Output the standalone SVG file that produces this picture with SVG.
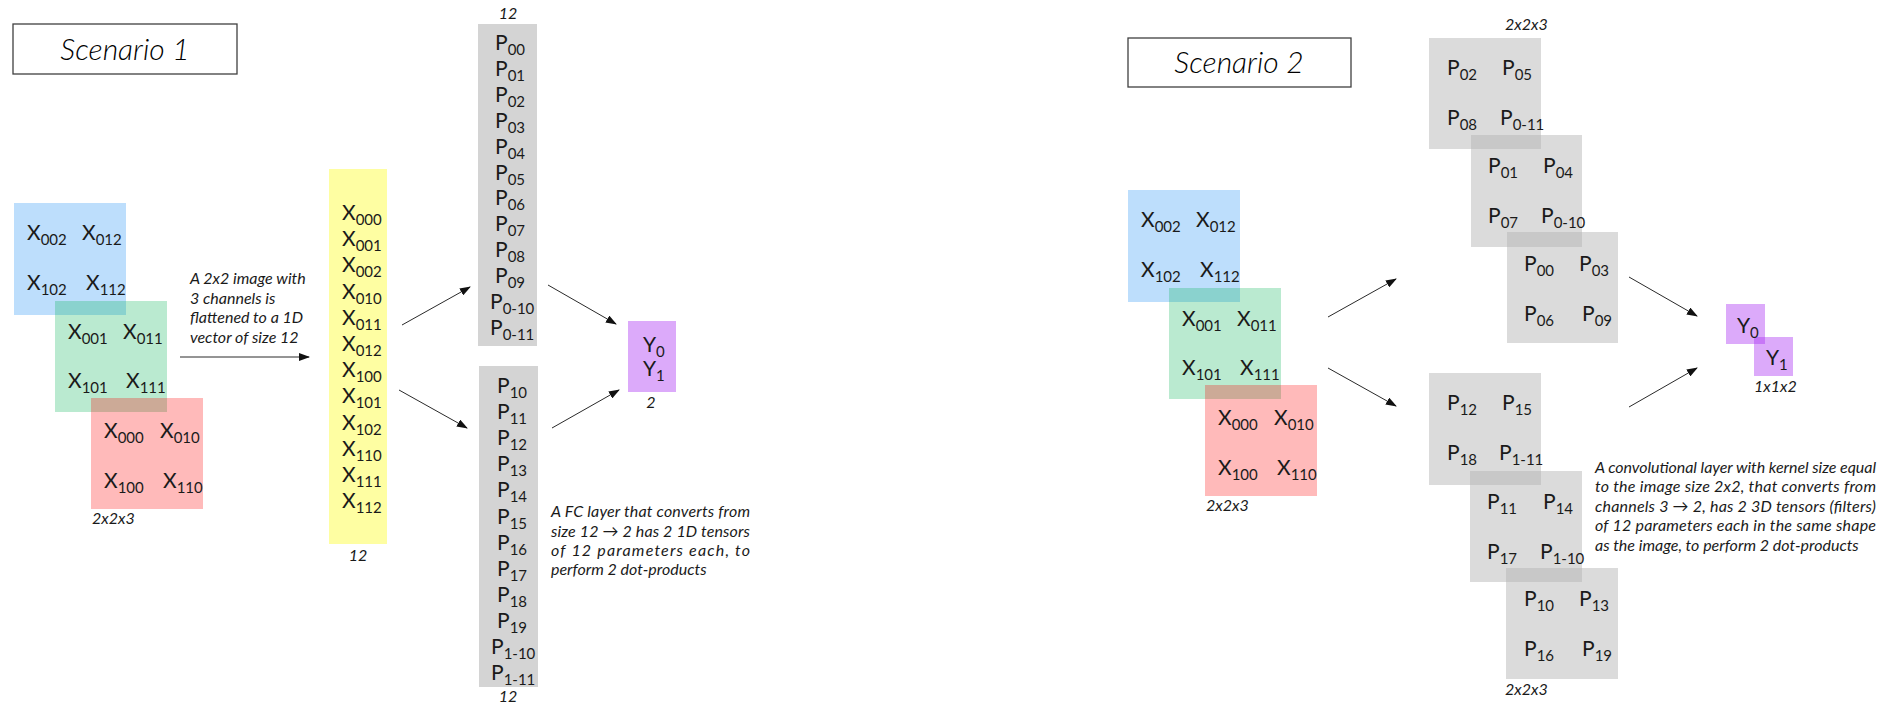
<svg xmlns="http://www.w3.org/2000/svg" width="1886" height="704" viewBox="0 0 1886 704">
<defs>
<style>
text{font-family:"Lato","Open Sans","Liberation Sans",sans-serif;fill:#111}
.lbl{font-size:21px;font-weight:400;fill:#1a1a1a}
.sub{font-size:15px}
.it{font-style:italic;font-weight:400;font-size:16px;fill:#1a1a1a}
.title{font-style:italic;font-weight:300;font-size:30px;fill:#000}
.box{fill:#fff;stroke:#404040;stroke-width:1.3}
.blue{fill:rgb(10,132,244);fill-opacity:0.27}
.green{fill:#00b050;fill-opacity:0.27}
.red{fill:#ff0000;fill-opacity:0.27}
.yel{fill:#fefea2}
.gcol{fill:#d4d4d4}
.gsq{fill:#b4b4b4;fill-opacity:0.48}
.pur{fill:rgb(167,42,242);fill-opacity:0.4}
.conn line{stroke:#2a2a2a;stroke-width:1;marker-end:url(#ah)}
</style>
<marker id="ah" markerUnits="userSpaceOnUse" markerWidth="11" markerHeight="8" refX="10" refY="4" orient="auto">
<path d="M0,0 L11,4 L0,8 z" fill="#111"/>
</marker>
</defs>
<rect width="1886" height="704" fill="#fff"/>

<!-- Scenario 1 -->
<g id="title1">
<rect class="box" x="13" y="24" width="224" height="50"/>
<text class="title" x="125" y="60" text-anchor="middle">Scenario 1</text>
</g>

<g id="image1">
<rect class="blue" x="14" y="203" width="112" height="112"/>
<rect class="green" x="55" y="301" width="112" height="111"/>
<rect class="red" x="91" y="398" width="112" height="111"/>
<text class="lbl" x="27" y="240">X<tspan class="sub" dy="5">002</tspan></text>
<text class="lbl" x="82" y="240">X<tspan class="sub" dy="5">012</tspan></text>
<text class="lbl" x="27" y="290">X<tspan class="sub" dy="5">102</tspan></text>
<text class="lbl" x="86" y="290">X<tspan class="sub" dy="5">112</tspan></text>
<text class="lbl" x="68" y="339">X<tspan class="sub" dy="5">001</tspan></text>
<text class="lbl" x="123" y="339">X<tspan class="sub" dy="5">011</tspan></text>
<text class="lbl" x="68" y="388">X<tspan class="sub" dy="5">101</tspan></text>
<text class="lbl" x="126" y="388">X<tspan class="sub" dy="5">111</tspan></text>
<text class="lbl" x="104" y="438">X<tspan class="sub" dy="5">000</tspan></text>
<text class="lbl" x="160" y="438">X<tspan class="sub" dy="5">010</tspan></text>
<text class="lbl" x="104" y="488">X<tspan class="sub" dy="5">100</tspan></text>
<text class="lbl" x="163" y="488">X<tspan class="sub" dy="5">110</tspan></text>
<text class="it" x="92" y="524">2x2x3</text>
</g>

<g id="note1">
<text class="it" x="190" y="284">A 2x2 image with</text>
<text class="it" x="190" y="304">3 channels is</text>
<text class="it" x="190" y="323">flattened to a 1D</text>
<text class="it" x="190" y="343">vector of size 12</text>
</g>

<g id="flat">
<rect class="yel" x="329" y="169" width="58" height="375"/>
<text class="lbl" x="342" y="220">X<tspan class="sub" dy="5">000</tspan></text>
<text class="lbl" x="342" y="246.2">X<tspan class="sub" dy="5">001</tspan></text>
<text class="lbl" x="342" y="272.4">X<tspan class="sub" dy="5">002</tspan></text>
<text class="lbl" x="342" y="298.6">X<tspan class="sub" dy="5">010</tspan></text>
<text class="lbl" x="342" y="324.8">X<tspan class="sub" dy="5">011</tspan></text>
<text class="lbl" x="342" y="351">X<tspan class="sub" dy="5">012</tspan></text>
<text class="lbl" x="342" y="377.2">X<tspan class="sub" dy="5">100</tspan></text>
<text class="lbl" x="342" y="403.4">X<tspan class="sub" dy="5">101</tspan></text>
<text class="lbl" x="342" y="429.6">X<tspan class="sub" dy="5">102</tspan></text>
<text class="lbl" x="342" y="455.8">X<tspan class="sub" dy="5">110</tspan></text>
<text class="lbl" x="342" y="482">X<tspan class="sub" dy="5">111</tspan></text>
<text class="lbl" x="342" y="508.2">X<tspan class="sub" dy="5">112</tspan></text>
<text class="it" x="358" y="561" text-anchor="middle">12</text>
</g>

<g id="fc0">
<rect class="gcol" x="478" y="24" width="59" height="322"/>
<text class="it" x="508" y="19" text-anchor="middle">12</text>
<text class="lbl" x="495" y="50">P<tspan class="sub" dy="5">00</tspan></text>
<text class="lbl" x="495" y="75.9">P<tspan class="sub" dy="5">01</tspan></text>
<text class="lbl" x="495" y="101.8">P<tspan class="sub" dy="5">02</tspan></text>
<text class="lbl" x="495" y="127.7">P<tspan class="sub" dy="5">03</tspan></text>
<text class="lbl" x="495" y="153.6">P<tspan class="sub" dy="5">04</tspan></text>
<text class="lbl" x="495" y="179.5">P<tspan class="sub" dy="5">05</tspan></text>
<text class="lbl" x="495" y="205.4">P<tspan class="sub" dy="5">06</tspan></text>
<text class="lbl" x="495" y="231.3">P<tspan class="sub" dy="5">07</tspan></text>
<text class="lbl" x="495" y="257.2">P<tspan class="sub" dy="5">08</tspan></text>
<text class="lbl" x="495" y="283.1">P<tspan class="sub" dy="5">09</tspan></text>
<text class="lbl" x="490" y="309">P<tspan class="sub" dy="5">0-10</tspan></text>
<text class="lbl" x="490" y="334.9">P<tspan class="sub" dy="5">0-11</tspan></text>
</g>

<g id="fc1">
<rect class="gcol" x="479" y="366" width="59" height="321"/>
<text class="lbl" x="497" y="393">P<tspan class="sub" dy="5">10</tspan></text>
<text class="lbl" x="497" y="419.1">P<tspan class="sub" dy="5">11</tspan></text>
<text class="lbl" x="497" y="445.2">P<tspan class="sub" dy="5">12</tspan></text>
<text class="lbl" x="497" y="471.3">P<tspan class="sub" dy="5">13</tspan></text>
<text class="lbl" x="497" y="497.4">P<tspan class="sub" dy="5">14</tspan></text>
<text class="lbl" x="497" y="523.5">P<tspan class="sub" dy="5">15</tspan></text>
<text class="lbl" x="497" y="549.6">P<tspan class="sub" dy="5">16</tspan></text>
<text class="lbl" x="497" y="575.7">P<tspan class="sub" dy="5">17</tspan></text>
<text class="lbl" x="497" y="601.8">P<tspan class="sub" dy="5">18</tspan></text>
<text class="lbl" x="497" y="627.9">P<tspan class="sub" dy="5">19</tspan></text>
<text class="lbl" x="491" y="654">P<tspan class="sub" dy="5">1-10</tspan></text>
<text class="lbl" x="491" y="680.1">P<tspan class="sub" dy="5">1-11</tspan></text>
<text class="it" x="508" y="702" text-anchor="middle">12</text>
</g>

<g id="out1">
<rect class="pur" x="628" y="321" width="48" height="71"/>
<text class="lbl" x="643" y="352">Y<tspan class="sub" dy="5">0</tspan></text>
<text class="lbl" x="643" y="376">Y<tspan class="sub" dy="5">1</tspan></text>
<text class="it" x="651" y="408" text-anchor="middle">2</text>
</g>

<g id="note2">
<text class="it" x="551" y="517" textLength="199" lengthAdjust="spacing">A FC layer that converts from</text>
<text class="it" x="551" y="537" textLength="199" lengthAdjust="spacing">size 12 → 2 has 2 1D tensors</text>
<text class="it" x="551" y="556" textLength="199" lengthAdjust="spacing">of 12 parameters each, to</text>
<text class="it" x="551" y="575">perform 2 dot-products</text>
</g>

<!-- Scenario 2 -->
<g id="title2">
<rect class="box" x="1128" y="38" width="223" height="49"/>
<text class="title" x="1239" y="73" text-anchor="middle">Scenario 2</text>
</g>

<g id="image2" transform="translate(1114,-13)">
<rect class="blue" x="14" y="203" width="112" height="112"/>
<rect class="green" x="55" y="301" width="112" height="111"/>
<rect class="red" x="91" y="398" width="112" height="111"/>
<text class="lbl" x="27" y="240">X<tspan class="sub" dy="5">002</tspan></text>
<text class="lbl" x="82" y="240">X<tspan class="sub" dy="5">012</tspan></text>
<text class="lbl" x="27" y="290">X<tspan class="sub" dy="5">102</tspan></text>
<text class="lbl" x="86" y="290">X<tspan class="sub" dy="5">112</tspan></text>
<text class="lbl" x="68" y="339">X<tspan class="sub" dy="5">001</tspan></text>
<text class="lbl" x="123" y="339">X<tspan class="sub" dy="5">011</tspan></text>
<text class="lbl" x="68" y="388">X<tspan class="sub" dy="5">101</tspan></text>
<text class="lbl" x="126" y="388">X<tspan class="sub" dy="5">111</tspan></text>
<text class="lbl" x="104" y="438">X<tspan class="sub" dy="5">000</tspan></text>
<text class="lbl" x="160" y="438">X<tspan class="sub" dy="5">010</tspan></text>
<text class="lbl" x="104" y="488">X<tspan class="sub" dy="5">100</tspan></text>
<text class="lbl" x="163" y="488">X<tspan class="sub" dy="5">110</tspan></text>
<text class="it" x="92" y="524">2x2x3</text>
</g>

<g id="filter0">
<text class="it" x="1505" y="30">2x2x3</text>
<rect class="gsq" x="1429" y="38" width="112" height="111"/>
<rect class="gsq" x="1471" y="135" width="111" height="112"/>
<rect class="gsq" x="1507" y="232" width="111" height="111"/>
<text class="lbl" x="1447" y="75">P<tspan class="sub" dy="5">02</tspan></text>
<text class="lbl" x="1502" y="75">P<tspan class="sub" dy="5">05</tspan></text>
<text class="lbl" x="1447" y="125">P<tspan class="sub" dy="5">08</tspan></text>
<text class="lbl" x="1500" y="125">P<tspan class="sub" dy="5">0-11</tspan></text>
<text class="lbl" x="1488" y="173">P<tspan class="sub" dy="5">01</tspan></text>
<text class="lbl" x="1543" y="173">P<tspan class="sub" dy="5">04</tspan></text>
<text class="lbl" x="1488" y="223">P<tspan class="sub" dy="5">07</tspan></text>
<text class="lbl" x="1541" y="223">P<tspan class="sub" dy="5">0-10</tspan></text>
<text class="lbl" x="1524" y="271">P<tspan class="sub" dy="5">00</tspan></text>
<text class="lbl" x="1579" y="271">P<tspan class="sub" dy="5">03</tspan></text>
<text class="lbl" x="1524" y="321">P<tspan class="sub" dy="5">06</tspan></text>
<text class="lbl" x="1582" y="321">P<tspan class="sub" dy="5">09</tspan></text>
</g>

<g id="filter1">
<rect class="gsq" x="1429" y="373" width="112" height="112"/>
<rect class="gsq" x="1470" y="471" width="112" height="111"/>
<rect class="gsq" x="1506" y="568" width="112" height="111"/>
<text class="lbl" x="1447" y="410">P<tspan class="sub" dy="5">12</tspan></text>
<text class="lbl" x="1502" y="410">P<tspan class="sub" dy="5">15</tspan></text>
<text class="lbl" x="1447" y="460">P<tspan class="sub" dy="5">18</tspan></text>
<text class="lbl" x="1499" y="460">P<tspan class="sub" dy="5">1-11</tspan></text>
<text class="lbl" x="1487" y="509">P<tspan class="sub" dy="5">11</tspan></text>
<text class="lbl" x="1543" y="509">P<tspan class="sub" dy="5">14</tspan></text>
<text class="lbl" x="1487" y="559">P<tspan class="sub" dy="5">17</tspan></text>
<text class="lbl" x="1540" y="559">P<tspan class="sub" dy="5">1-10</tspan></text>
<text class="lbl" x="1524" y="606">P<tspan class="sub" dy="5">10</tspan></text>
<text class="lbl" x="1579" y="606">P<tspan class="sub" dy="5">13</tspan></text>
<text class="lbl" x="1524" y="656">P<tspan class="sub" dy="5">16</tspan></text>
<text class="lbl" x="1582" y="656">P<tspan class="sub" dy="5">19</tspan></text>
<text class="it" x="1505" y="695">2x2x3</text>
</g>

<g id="out2">
<rect class="pur" x="1726" y="304" width="39" height="40"/>
<rect class="pur" x="1754" y="337" width="39" height="39"/>
<text class="lbl" x="1737" y="333">Y<tspan class="sub" dy="5">0</tspan></text>
<text class="lbl" x="1766" y="365">Y<tspan class="sub" dy="5">1</tspan></text>
<text class="it" x="1754" y="392">1x1x2</text>
</g>

<g id="note3">
<text class="it" x="1595" y="473" textLength="281" lengthAdjust="spacing">A convolutional layer with kernel size equal</text>
<text class="it" x="1595" y="492" textLength="281" lengthAdjust="spacing">to the image size 2x2, that converts from</text>
<text class="it" x="1595" y="512" textLength="281" lengthAdjust="spacing">channels 3 → 2, has 2 3D tensors (filters)</text>
<text class="it" x="1595" y="531" textLength="281" lengthAdjust="spacing">of 12 parameters each in the same shape</text>
<text class="it" x="1595" y="551">as the image, to perform 2 dot-products</text>
</g>

<g id="connectors" class="conn">
<line x1="180" y1="357" x2="309" y2="357"/>
<line x1="402" y1="325" x2="470" y2="287"/>
<line x1="399" y1="390" x2="467" y2="428"/>
<line x1="548" y1="285" x2="616" y2="324"/>
<line x1="552" y1="428" x2="619" y2="390"/>
<line x1="1328" y1="317" x2="1396" y2="279"/>
<line x1="1328" y1="368" x2="1396" y2="406"/>
<line x1="1629" y1="277" x2="1697" y2="316"/>
<line x1="1629" y1="407" x2="1697" y2="368"/>
</g>
</svg>
